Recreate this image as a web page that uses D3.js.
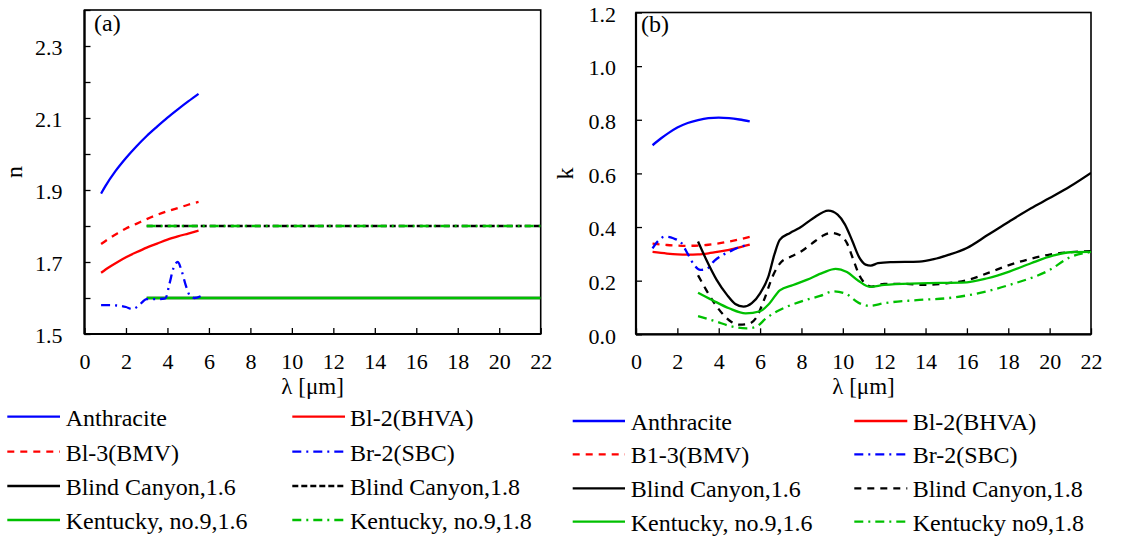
<!DOCTYPE html>
<html>
<head>
<meta charset="utf-8">
<script src="https://cdn.jsdelivr.net/npm/d3@7"></script>
<style>
  body { margin: 0; background: #fff; }
  svg { display: block; }
  svg text { font-family: "Liberation Serif", "DejaVu Serif", "Times New Roman", Times, serif !important; fill: #000; }
</style>
</head>
<body>
<svg id="chart" width="1125" height="543" font-family="Liberation Serif, DejaVu Serif, serif"></svg>
<script>
// ---------- data ----------
const lambdaTicks = [0, 2, 4, 6, 8, 10, 12, 14, 16, 18, 20, 22];
const nTicks = [1.5, 1.6, 1.7, 1.8, 1.9, 2.0, 2.1, 2.2, 2.3, 2.4];
const nTickLabels = ["1.5", "1.7", "1.9", "2.1", "2.3"];
const kTicks = [0, 0.2, 0.4, 0.6, 0.8, 1.0, 1.2];
const kTickLabels = ["0.0", "0.2", "0.4", "0.6", "0.8", "1.0", "1.2"];

// panel (a): refractive index n
const anthraciteN = [[0.8,1.890],[1.0,1.910],[1.5,1.953],[2.0,1.989],[2.5,2.021],[3.0,2.050],[3.5,2.076],[4.0,2.101],[4.5,2.124],[5.0,2.146],[5.5,2.167]];
const bl2N = [[0.8,1.670],[1.2,1.686],[1.6,1.700],[2.0,1.713],[2.5,1.727],[3.0,1.740],[3.5,1.751],[4.0,1.762],[4.5,1.771],[5.0,1.779],[5.5,1.787]];
const bl3N = [[0.8,1.750],[1.2,1.766],[1.6,1.780],[2.0,1.793],[2.5,1.806],[3.0,1.819],[3.5,1.831],[4.0,1.841],[4.5,1.850],[5.0,1.859],[5.5,1.867]];
const br2N = [[0.8,1.58],[1.2,1.58],[1.6,1.579],[2.0,1.575],[2.3,1.569],[2.6,1.578],[3.0,1.597],[3.5,1.597],[3.9,1.599],[4.1,1.64],[4.3,1.685],[4.5,1.70],[4.7,1.672],[4.9,1.632],[5.1,1.605],[5.3,1.600],[5.6,1.605]];
const blindCanyon16N = [[3,1.6],[22,1.6]];
const blindCanyon18N = [[3,1.8],[22,1.8]];
const kentucky16N = [[3,1.6],[22,1.6]];
const kentucky18N = [[3,1.8],[22,1.8]];

// panel (b): absorption index k
const anthraciteK = [[0.8,0.705],[1.2,0.73],[1.6,0.752],[2.0,0.771],[2.5,0.788],[3.0,0.799],[3.5,0.806],[4.0,0.808],[4.5,0.806],[5.0,0.801],[5.5,0.794]];
const bl2K = [[0.8,0.307],[1.5,0.301],[2.0,0.298],[2.5,0.297],[3.0,0.298],[3.5,0.302],[4.0,0.308],[4.5,0.315],[5.0,0.324],[5.5,0.334]];
const bl3K = [[0.8,0.338],[1.5,0.333],[2.0,0.331],[2.5,0.330],[3.0,0.331],[3.5,0.334],[4.0,0.339],[4.5,0.346],[5.0,0.354],[5.5,0.363]];
const br2K = [[0.8,0.32],[1.0,0.342],[1.4,0.364],[1.8,0.358],[2.2,0.34],[2.5,0.3],[2.8,0.26],[3.1,0.24],[3.4,0.243],[3.8,0.275],[4.2,0.296],[4.6,0.311],[5.0,0.325],[5.4,0.333]];
const blindCanyon16K = [[3.0,0.346],[3.4,0.278],[3.9,0.203],[4.4,0.147],[4.8,0.113],[5.2,0.103],[5.6,0.116],[6.0,0.153],[6.4,0.215],[6.7,0.30],[6.95,0.352],[7.45,0.378],[7.9,0.396],[8.55,0.432],[9.3,0.461],[9.75,0.446],[10.1,0.41],[10.45,0.35],[10.8,0.286],[11.1,0.26],[11.35,0.256],[11.7,0.265],[12.3,0.269],[13.7,0.271],[14.4,0.28],[15.1,0.296],[16.0,0.322],[17.0,0.37],[18.05,0.421],[19.1,0.47],[20.0,0.508],[21.0,0.552],[22.0,0.602]];
const blindCanyon18K = [[3.0,0.22],[3.4,0.165],[3.8,0.115],[4.2,0.075],[4.6,0.047],[5.0,0.036],[5.4,0.038],[5.8,0.06],[6.2,0.13],[6.6,0.215],[7.0,0.268],[7.5,0.29],[8.0,0.31],[8.5,0.338],[9.0,0.366],[9.4,0.378],[9.85,0.37],[10.2,0.34],[10.5,0.28],[10.8,0.22],[11.1,0.188],[11.4,0.178],[12.0,0.188],[13.0,0.188],[14.0,0.184],[15.0,0.19],[16.0,0.202],[17.0,0.228],[18.0,0.257],[19.0,0.28],[20.0,0.297],[21.0,0.306],[22.0,0.31]];
const kentucky16K = [[3.0,0.155],[3.7,0.127],[4.5,0.097],[5.3,0.078],[6.0,0.086],[6.45,0.115],[6.95,0.164],[7.6,0.184],[8.25,0.203],[9.05,0.23],[9.65,0.244],[10.2,0.232],[10.75,0.2],[11.3,0.177],[12.0,0.184],[13.7,0.19],[16.0,0.194],[17.0,0.209],[18.05,0.234],[19.1,0.265],[20.15,0.293],[21.0,0.306],[22.0,0.307]];
const kentucky18K = [[3.0,0.068],[3.9,0.047],[4.5,0.032],[5.35,0.022],[5.8,0.028],[6.3,0.06],[6.8,0.085],[7.3,0.103],[8.2,0.128],[8.9,0.143],[9.55,0.16],[10.1,0.153],[10.75,0.118],[11.3,0.106],[12.0,0.116],[13.7,0.128],[15.1,0.135],[16.15,0.147],[18.05,0.184],[20.0,0.24],[21.0,0.288],[22.0,0.307]];

const legendLabelsA = ["Anthracite","Bl-2(BHVA)","Bl-3(BMV)","Br-2(SBC)","Blind Canyon,1.6","Blind Canyon,1.8","Kentucky, no.9,1.6","Kentucky, no.9,1.8"];
const legendLabelsB = ["Anthracite","Bl-2(BHVA)","B1-3(BMV)","Br-2(SBC)","Blind Canyon,1.6","Blind Canyon,1.8","Kentucky, no.9,1.6","Kentucky no9,1.8"];

// ---------- styles ----------
const BLUE = "#0000ff", RED = "#ff0000", BLACK = "#000000", GREEN = "#00c000";
const FAMILY = '"Liberation Serif", "DejaVu Serif", "Times New Roman", serif';
const stylesA = [
  {c: BLUE, d: null}, {c: RED, d: null}, {c: RED, d: "7,6"}, {c: BLUE, d: "9,5,2,5"},
  {c: BLACK, d: null}, {c: BLACK, d: "6,3"}, {c: GREEN, d: null}, {c: GREEN, d: "9,5,2,5"}
];
const stylesB = [
  {c: BLUE, d: null}, {c: RED, d: null}, {c: RED, d: "7,6"}, {c: BLUE, d: "9,5,2,5"},
  {c: BLACK, d: null}, {c: BLACK, d: "7,6"}, {c: GREEN, d: null}, {c: GREEN, d: "9,5,2,5"}
];

const svg = d3.select("#chart");
const FONT = 22;

function panel(opts) {
  const g = svg.append("g");
  const x = d3.scaleLinear().domain([0, 22]).range([opts.left, opts.right]);
  const y = d3.scaleLinear().domain(opts.yDomain).range([opts.bottom, opts.top]);

  const xa = g.append("g").attr("transform", `translate(0,${opts.bottom})`)
    .call(d3.axisBottom(x).tickValues(lambdaTicks).tickFormat(d3.format("d"))
      .tickSizeInner(-6).tickSizeOuter(0).tickPadding(19));
  xa.attr("font-family", FAMILY).attr("font-size", FONT);
  xa.select(".domain").remove();
  xa.selectAll("line").attr("stroke", "#000").attr("stroke-width", 1.3);

  const ya = g.append("g").attr("transform", `translate(${opts.left},0)`)
    .call(d3.axisLeft(y).tickValues(opts.yTicks)
      .tickFormat(opts.yFormat).tickSizeInner(-6).tickSizeOuter(0).tickPadding(opts.yPad));
  ya.attr("font-family", FAMILY).attr("font-size", FONT);
  ya.select(".domain").remove();
  ya.selectAll("line").attr("stroke", "#000").attr("stroke-width", 1.3);
  ya.selectAll("text").attr("dy", "0.4em");

  g.append("rect").attr("x", opts.left).attr("y", opts.top)
    .attr("width", opts.right - opts.left).attr("height", opts.bottom - opts.top)
    .attr("fill", "none").attr("stroke", "#000").attr("stroke-width", 1.6);
  g.append("line").attr("x1", opts.left).attr("x2", opts.left).attr("y1", opts.top).attr("y2", opts.bottom)
    .attr("stroke", "#000").attr("stroke-width", 2.2);
  g.append("line").attr("x1", opts.left).attr("x2", opts.right).attr("y1", opts.bottom).attr("y2", opts.bottom)
    .attr("stroke", "#000").attr("stroke-width", 2.2);

  const line = d3.line().x(d => x(d[0])).y(d => y(d[1])).curve(d3.curveMonotoneX);
  const clipId = "clip" + opts.id;
  svg.append("defs").append("clipPath").attr("id", clipId).append("rect")
    .attr("x", opts.left).attr("y", opts.top).attr("width", opts.right - opts.left).attr("height", opts.bottom - opts.top);
  const sg = g.append("g").attr("clip-path", `url(#${clipId})`);
  opts.order.forEach(i => {
    sg.append("path").datum(opts.series[i])
      .attr("d", line).attr("fill", "none")
      .attr("stroke", opts.styles[i].c).attr("stroke-width", 2.3)
      .attr("stroke-dasharray", opts.styles[i].d);
  });

  g.append("text").attr("x", opts.letterX).attr("y", opts.letterY).attr("font-size", 24).text(opts.letter);

  g.append("text").attr("x", (opts.left + opts.right) / 2).attr("y", 394)
    .attr("text-anchor", "middle").attr("font-size", 23).text("λ [μm]");
  g.append("text").attr("transform", `translate(${opts.yTitleX},${(opts.top + opts.bottom) / 2}) rotate(-90)`)
    .attr("text-anchor", "middle").attr("font-size", 24).text(opts.yTitle);

  const lg = g.append("g");
  opts.legendLabels.forEach((lab, i) => {
    const col = i % 2, row = Math.floor(i / 2);
    const ly = opts.legRows[row];
    const lx0 = opts.legCols[col][0], lx1 = opts.legCols[col][1], tx = opts.legCols[col][2];
    lg.append("line").attr("x1", lx0).attr("x2", lx1).attr("y1", ly).attr("y2", ly)
      .attr("stroke", opts.styles[i].c).attr("stroke-width", 2.3)
      .attr("stroke-dasharray", opts.styles[i].d);
    lg.append("text").attr("x", tx).attr("y", ly + 9).attr("font-size", 24).text(lab);
  });
}

const fmtN = d => { const s = d3.format(".1f")(d); return nTickLabels.includes(s) ? s : ""; };
const fmtK = d => kTickLabels[kTicks.indexOf(d)];

panel({
  id: "a", left: 84.5, right: 540.7, top: 10, bottom: 334,
  yDomain: [1.5, 2.4], yTicks: nTicks, yFormat: fmtN, yPad: 22,
  series: [anthraciteN, bl2N, bl3N, br2N, blindCanyon16N, blindCanyon18N, kentucky16N, kentucky18N],
  styles: stylesA, order: [0, 1, 2, 4, 5, 6, 7, 3],
  letter: "(a)", letterX: 94, letterY: 31,
  yTitle: "n", yTitleX: 22,
  legendLabels: legendLabelsA,
  legRows: [416.7, 451.7, 486, 520],
  legCols: [[7.3, 60, 65.7], [292.3, 345, 350]]
});

panel({
  id: "b", left: 636, right: 1091, top: 12.5, bottom: 334.3,
  yDomain: [0, 1.2], yTicks: kTicks, yFormat: fmtK, yPad: 20,
  series: [anthraciteK, bl2K, bl3K, br2K, blindCanyon16K, blindCanyon18K, kentucky16K, kentucky18K],
  styles: stylesB, order: [0, 1, 2, 3, 4, 5, 6, 7],
  letter: "(b)", letterX: 641, letterY: 32,
  yTitle: "k", yTitleX: 573,
  legendLabels: legendLabelsB,
  legRows: [421, 454.3, 488.3, 521.7],
  legCols: [[572.7, 625, 630.7], [854.3, 907.3, 912.7]]
});
</script>
</body>
</html>
